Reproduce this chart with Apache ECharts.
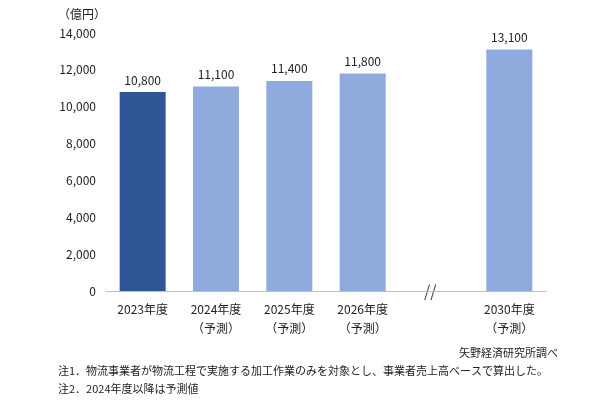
<!DOCTYPE html>
<html><head><meta charset="utf-8">
<script src="https://cdn.jsdelivr.net/npm/echarts@6/dist/echarts.min.js"></script>
<style>html,body{margin:0;padding:0;background:#fff}#c{width:600px;height:400px}</style>
</head><body><div id="c"></div>
<script>
var categories = ['2023年度', '2024年度\n（予測）', '2025年度\n（予測）', '2026年度\n（予測）', '', '2030年度\n（予測）'];
var values = [10800, 11100, 11400, 11800, null, 13100];
var colors = ['#2F5597', '#8FAADC', '#8FAADC', '#8FAADC', '#8FAADC', '#8FAADC'];
var font = '"Noto Sans CJK JP", sans-serif';

var chart = echarts.init(document.getElementById('c'));
chart.setOption({
  animation: false,
  textStyle: {fontFamily: font},
  grid: {left: 106, right: 54, top: 33, bottom: 109},
  xAxis: {
    type: 'category', data: categories,
    axisTick: {show: false},
    axisLine: {lineStyle: {color: '#bfbfbf'}},
    axisLabel: {color: '#222', fontSize: 12, lineHeight: 19, margin: 9}
  },
  yAxis: {
    type: 'value', min: 0, max: 14000, interval: 2000,
    splitLine: {show: false},
    axisLine: {show: false},
    axisLabel: {color: '#222', fontSize: 12, margin: 10,
      formatter: function (v) { return v.toLocaleString('en-US'); }}
  },
  series: [{
    type: 'bar', barWidth: 46,
    data: values.map(function (v, i) { return {value: v, itemStyle: {color: colors[i]}}; }),
    label: {show: true, position: 'top', color: '#222', fontSize: 12, distance: 6,
      formatter: function (p) { return p.value.toLocaleString('en-US'); }}
  }],
  graphic: [
    {type: 'text', left: 58, top: 8, style: {text: '（億円）', font: '12px ' + font, fill: '#222'}},
    {type: 'text', left: 424, top: 283, style: {text: '//', font: '16px ' + font, fill: '#444'}},
    {type: 'text', right: 42, top: 347, style: {text: '矢野経済研究所調べ', font: '11px ' + font, fill: '#222'}},
    {type: 'text', left: 58, top: 365, style: {text: '注1．物流事業者が物流工程で実施する加工作業のみを対象とし、事業者売上高ベースで算出した。', font: '11px ' + font, fill: '#222'}},
    {type: 'text', left: 58, top: 383, style: {text: '注2．2024年度以降は予測値', font: '11px ' + font, fill: '#222'}}
  ]
});
</script></body></html>
